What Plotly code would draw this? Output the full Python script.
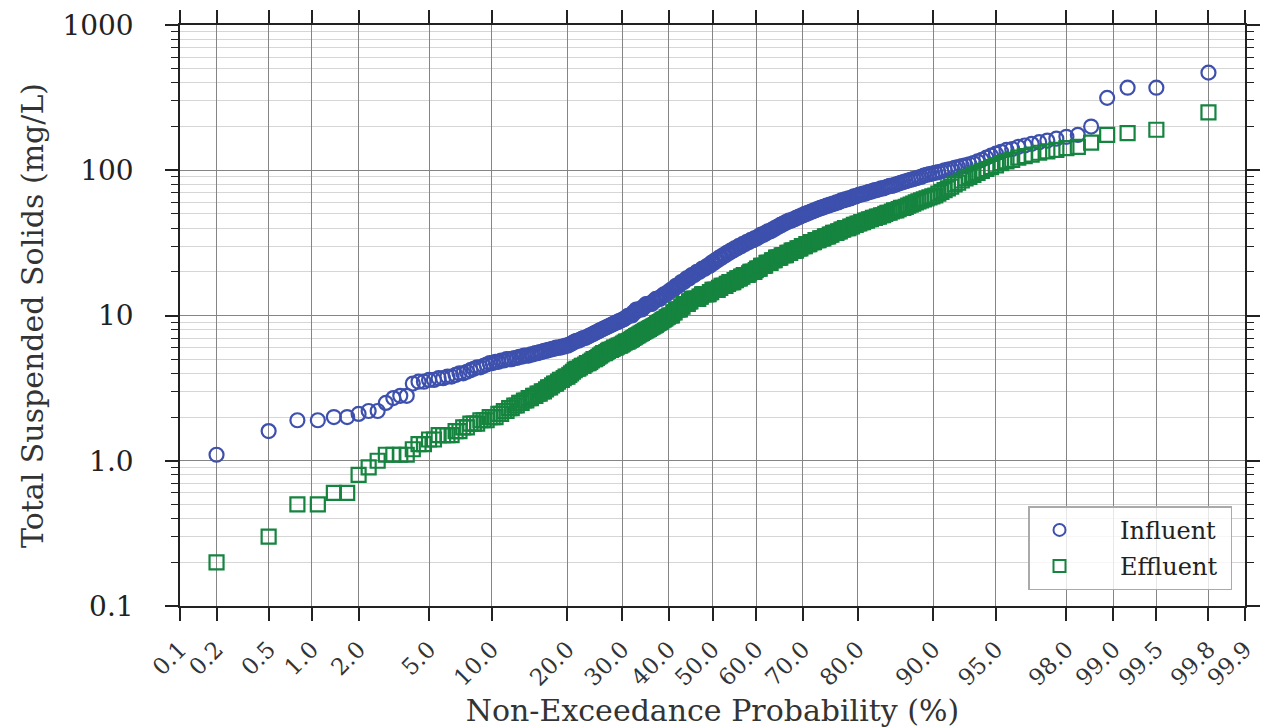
import math
import plotly.graph_objects as go

# ---------------- data (sorted TSS concentrations, mg/L) ----------------
influent = [
    1.1, 1.6, 1.9, 1.9, 2.0, 2.0, 2.1, 2.2, 2.2, 2.5,
    2.7, 2.8, 2.8, 3.4, 3.5, 3.5, 3.6, 3.6, 3.7, 3.7,
    3.8, 3.8, 3.9, 4.0, 4.0, 4.1, 4.2, 4.3, 4.4, 4.4,
    4.5, 4.6, 4.7, 4.7, 4.8, 4.8, 4.9, 4.9, 5.0, 5.0,
    5.0, 5.1, 5.1, 5.2, 5.2, 5.3, 5.3, 5.3, 5.4, 5.4,
    5.5, 5.5, 5.6, 5.6, 5.7, 5.7, 5.8, 5.8, 5.9, 5.9,
    6.0, 6.0, 6.0, 6.1, 6.1, 6.2, 6.2, 6.3, 6.4, 6.5,
    6.6, 6.7, 6.7, 6.8, 6.9, 7.0, 7.0, 7.1, 7.2, 7.3,
    7.4, 7.5, 7.6, 7.7, 7.8, 7.9, 8.0, 8.1, 8.2, 8.3,
    8.4, 8.5, 8.6, 8.7, 8.8, 8.9, 9.0, 9.1, 9.2, 9.3,
    9.4, 9.5, 9.7, 9.9, 10, 10, 10, 10.5, 10.5, 11,
    11, 11, 11, 11, 11.5, 11.5, 12, 12, 12, 12,
    12, 12.5, 12.5, 13, 13, 13, 13, 13.5, 13.5, 14,
    14, 14, 14.5, 14.5, 15, 15, 15, 15.5, 16, 16,
    16, 16.5, 17, 17, 17, 17.5, 18, 18, 18, 18.5,
    19, 19, 19, 19.5, 20, 20, 20, 20.5, 21, 21,
    21, 21.5, 22, 22, 22, 23, 23, 23, 24, 24,
    24, 25, 25, 25, 26, 26, 26, 27, 27, 27,
    28, 28, 28, 29, 29, 29, 30, 30, 30, 31,
    31, 31, 32, 32, 32, 33, 33, 33, 34, 34,
    34, 35, 35, 36, 36, 36, 37, 37, 38, 38,
    38, 39, 39, 40, 40, 41, 41, 42, 42, 43,
    43, 44, 44, 45, 45, 45, 46, 46, 47, 47,
    48, 48, 49, 49, 50, 50, 51, 51, 52, 52,
    53, 53, 54, 54, 55, 55, 56, 56, 57, 57,
    58, 58, 59, 59, 60, 60, 61, 62, 62, 63,
    63, 64, 64, 65, 66, 66, 67, 68, 68, 69,
    69, 70, 71, 71, 72, 73, 73, 74, 75, 75,
    76, 77, 78, 78, 79, 80, 81, 82, 83, 84,
    85, 86, 87, 88, 89, 90, 92, 93, 94, 95,
    96, 97, 98, 100, 101, 102, 104, 105, 107, 108,
    110, 112, 115, 118, 122, 126, 130, 134, 138, 140,
    145, 148, 152, 156, 160, 165, 170, 175, 200, 315,
    370, 370, 470,
]

effluent = [
    0.2, 0.3, 0.5, 0.5, 0.6, 0.6, 0.8, 0.9, 1.0, 1.1,
    1.1, 1.1, 1.1, 1.2, 1.3, 1.3, 1.4, 1.4, 1.5, 1.5,
    1.5, 1.5, 1.6, 1.6, 1.7, 1.7, 1.8, 1.8, 1.8, 1.9,
    1.9, 1.9, 2.0, 2.0, 2.0, 2.1, 2.1, 2.2, 2.2, 2.3,
    2.3, 2.4, 2.4, 2.5, 2.5, 2.6, 2.6, 2.7, 2.7, 2.8,
    2.8, 2.9, 2.9, 3.0, 3.0, 3.1, 3.2, 3.2, 3.3, 3.4,
    3.4, 3.5, 3.6, 3.6, 3.7, 3.8, 3.8, 3.9, 4.0, 4.1,
    4.2, 4.3, 4.3, 4.4, 4.5, 4.5, 4.6, 4.7, 4.7, 4.8,
    4.9, 5.0, 5.0, 5.1, 5.2, 5.3, 5.4, 5.5, 5.5, 5.6,
    5.7, 5.8, 5.8, 5.9, 6.0, 6.0, 6.1, 6.2, 6.2, 6.3,
    6.4, 6.5, 6.6, 6.6, 6.7, 6.8, 6.9, 7.0, 7.1, 7.2,
    7.3, 7.4, 7.5, 7.6, 7.7, 7.8, 7.9, 8.0, 8.1, 8.2,
    8.3, 8.4, 8.5, 8.6, 8.8, 8.9, 9.0, 9.1, 9.3, 9.4,
    9.5, 9.7, 9.8, 10, 10, 10, 10.5, 10.5, 11, 11,
    11, 11, 11.5, 11.5, 12, 12, 12, 12, 12.5, 12.5,
    13, 13, 13, 13, 13, 13, 13.5, 13.5, 14, 14,
    14, 14, 14, 14, 14.5, 14.5, 15, 15, 15, 15,
    15, 15.5, 15.5, 16, 16, 16, 16, 16.5, 16.5, 17,
    17, 17, 17, 17.5, 17.5, 18, 18, 18, 18.5, 18.5,
    19, 19, 19, 19, 19.5, 20, 20, 20, 20, 20.5,
    21, 21, 21, 22, 22, 22, 22, 23, 23, 23,
    23, 24, 24, 24, 25, 25, 25, 25, 26, 26,
    26, 26, 27, 27, 27, 28, 28, 28, 28, 29,
    29, 29, 30, 30, 30, 31, 31, 31, 32, 32,
    32, 33, 33, 33, 34, 34, 34, 35, 35, 35,
    36, 36, 37, 37, 37, 38, 38, 39, 39, 40,
    40, 40, 41, 41, 42, 42, 43, 43, 44, 44,
    45, 45, 46, 46, 47, 47, 48, 48, 49, 49,
    50, 51, 51, 52, 53, 53, 54, 55, 55, 56,
    57, 58, 59, 60, 61, 62, 63, 64, 65, 66,
    67, 69, 71, 73, 75, 77, 80, 82, 85, 88,
    90, 93, 96, 99, 102, 105, 108, 112, 115, 118,
    122, 125, 128, 132, 135, 138, 142, 145, 155, 175,
    180, 190, 250,
]

x_tick_pct = [0.1, 0.2, 0.5, 1.0, 2.0, 5.0, 10.0, 20.0, 30.0, 40.0, 50.0,
              60.0, 70.0, 80.0, 90.0, 95.0, 98.0, 99.0, 99.5, 99.8, 99.9]
x_tick_text = ["0.1", "0.2", "0.5", "1.0", "2.0", "5.0", "10.0", "20.0", "30.0",
               "40.0", "50.0", "60.0", "70.0", "80.0", "90.0", "95.0", "98.0",
               "99.0", "99.5", "99.8", "99.9"]
y_tick_vals = [0.1, 1, 10, 100, 1000]
y_tick_text = ["0.1", "1.0", "10", "100", "1000"]


# ---------------- normal probability scale ----------------
def norm_ppf(p):
    lo, hi = -12.0, 12.0
    for _ in range(200):
        mid = 0.5 * (lo + hi)
        if 0.5 * (1 + math.erf(mid / math.sqrt(2))) < p:
            lo = mid
        else:
            hi = mid
    return 0.5 * (lo + hi)


def plotting_positions(n, a=1.0 / 3.0):
    # rank-based plotting positions (i - a) / (n + 1 - 2a)
    return [(i - a) / (n + 1 - 2 * a) for i in range(1, n + 1)]


x_inf = [norm_ppf(p) for p in plotting_positions(len(influent))]
x_eff = [norm_ppf(p) for p in plotting_positions(len(effluent))]
x_ticks = [norm_ppf(p / 100.0) for p in x_tick_pct]
x_range = [norm_ppf(0.001), norm_ppf(0.999)]

minor_y = [m * 10 ** e for e in range(-1, 3) for m in range(2, 10)]

FONT = "DejaVu Serif"
BLUE = "#3d50ad"
GREEN = "#15843f"
NB = "\u00a0"

fig = go.Figure()
fig.add_trace(go.Scatter(
    x=x_inf, y=influent, mode="markers", name=NB * 4 + "Influent" + NB,
    legendgroup="a",
    marker=dict(symbol="circle-open", size=14, color=BLUE, line=dict(width=2.2, color=BLUE)),
))
fig.add_trace(go.Scatter(
    x=x_eff, y=effluent, mode="markers", name=NB * 4 + "Effluent" + NB,
    legendgroup="b",
    marker=dict(symbol="square-open", size=14, color=GREEN, line=dict(width=2.2, color=GREEN)),
))

fig.update_layout(
    width=1270, height=728,
    margin=dict(l=180, r=25, t=25, b=122, autoexpand=False),
    paper_bgcolor="white", plot_bgcolor="white",
    font=dict(family=FONT, color="#222"),
    showlegend=True,
    legend=dict(
        x=0.9878, y=0.027, xanchor="right", yanchor="bottom",
        bgcolor="rgba(255,255,255,0.8)", bordercolor="#aaaaaa", borderwidth=1.5,
        font=dict(family=FONT, size=24, color="#222"),
        tracegroupgap=2, itemsizing="constant", itemwidth=50,
    ),
    xaxis=dict(
        range=x_range, tickmode="array", tickvals=x_ticks, ticktext=x_tick_text,
        tickangle=-45, tickfont=dict(family=FONT, size=23, color="#333"),
        ticks="outside", ticklen=13, tickwidth=1.5, tickcolor="#222",
        showline=True, linecolor="#222", linewidth=1.5, mirror="ticks",
        showgrid=True, gridcolor="#858585", gridwidth=1.3, zeroline=False,
        ticklabelstandoff=6, automargin=False,
        title=dict(text="Non-Exceedance Probability (%)",
                   font=dict(family=FONT, size=30, color="#333"), standoff=12),
    ),
    yaxis=dict(
        type="log", range=[-1, 3], tickmode="array", tickvals=y_tick_vals, ticktext=y_tick_text,
        tickfont=dict(family=FONT, size=28, color="#222"),
        ticks="outside", ticklen=13, tickwidth=1.5, tickcolor="#222",
        showline=True, linecolor="#222", linewidth=1.5, mirror="ticks",
        showgrid=True, gridcolor="#858585", gridwidth=1.3, zeroline=False,
        ticklabelstandoff=26, automargin=False,
        minor=dict(tickmode="array", tickvals=minor_y, ticks="outside", ticklen=7,
                   tickwidth=1.2, tickcolor="#222", showgrid=True,
                   gridcolor="#d6d6d6", gridwidth=1.2),
        title=dict(text="Total Suspended Solids (mg/L)",
                   font=dict(family=FONT, size=30, color="#333"), standoff=10),
    ),
)

fig.write_html("out.html")
